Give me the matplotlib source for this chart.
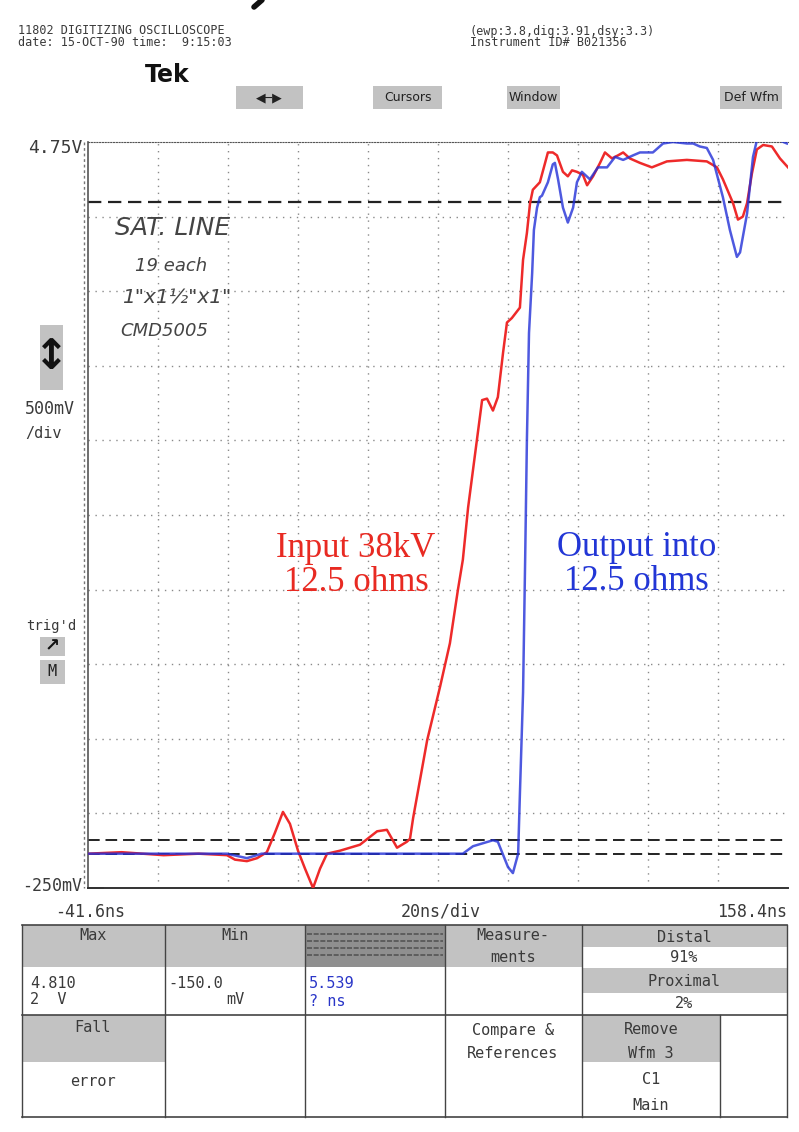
import numpy as np
import matplotlib
matplotlib.use("Agg")
import matplotlib.pyplot as plt
from matplotlib.patches import Rectangle
from matplotlib.lines import Line2D

# scope settings
t_left, t_right = -41.6, 158.4     # ns
v_bot, v_top = -0.25, 4.75         # V
sat_line = 4.35
prox_lines = [0.07, -0.02]

# input trace (red), time in ns, volts
red_t = [-41.6, -32.0, -20.0, -10.0, -1.9, 0.4, 3.8, 6.7, 9.5, 11.8, 14.1, 16.1,
         18.4, 20.4, 22.7, 24.7, 26.7, 30.4, 36.1, 41.0, 43.8, 46.7, 49.5, 50.4,
         51.3, 55.3, 59.0, 61.8, 64.1, 65.5, 67.0, 69.5, 71.0, 72.4, 74.1, 75.5,
         77.0, 78.1, 79.5, 81.8, 82.7, 83.8, 84.7, 85.5, 87.5, 89.0, 89.8, 91.2,
         92.4, 94.1, 95.5, 96.7, 98.1, 99.8, 101.0, 102.7, 104.7, 106.1, 108.1,
         109.8, 111.3, 113.2, 116.1, 119.5, 123.8, 129.5, 135.2, 138.1, 139.8,
         142.7, 144.1, 145.5, 146.7, 148.1, 149.5, 151.3, 153.8, 156.1, 158.4]
red_v = [-0.02, -0.01, -0.03, -0.02, -0.03, -0.06, -0.07, -0.05, -0.01, 0.12, 0.26, 0.18,
         0.0, -0.12, -0.25, -0.12, -0.02, 0.0, 0.04, 0.13, 0.14, 0.02, 0.06, 0.08,
         0.22, 0.74, 1.10, 1.39, 1.75, 1.95, 2.30, 2.75, 3.02, 3.03, 2.95, 3.04,
         3.34, 3.54, 3.57, 3.64, 3.96, 4.14, 4.34, 4.43, 4.48, 4.61, 4.68, 4.68,
         4.66, 4.55, 4.52, 4.56, 4.55, 4.53, 4.46, 4.52, 4.61, 4.68, 4.64,
         4.66, 4.68, 4.64, 4.61, 4.58, 4.62, 4.63, 4.62, 4.58, 4.50,
         4.34, 4.23, 4.25, 4.34, 4.54, 4.70, 4.73, 4.72, 4.64, 4.58]

# output trace (blue)
blue_t = [-41.6, -10.0, -1.9, 3.8, 8.0, 30.0, 60.0, 65.5, 68.4, 74.1, 75.5, 78.4,
          79.8, 81.3, 81.8, 82.7, 83.3, 83.8, 84.4, 85.3, 85.8, 86.7, 87.5, 88.1,
          89.8, 91.2, 91.8, 92.7, 94.1, 95.5, 97.0, 98.1, 99.5, 101.8, 104.1, 106.7,
          109.0, 111.3, 114.1, 116.1, 119.8, 122.7, 125.5, 129.5, 131.3, 133.2, 135.2,
          137.0, 139.8, 141.8, 143.8, 144.7, 146.7, 148.4, 149.5, 156.1, 158.1]
blue_v = [-0.02, -0.02, -0.02, -0.05, -0.02, -0.02, -0.02, -0.02, 0.03, 0.07, 0.06, -0.11,
          -0.15, -0.02, 0.38, 1.06, 1.95, 2.75, 3.47, 3.87, 4.16, 4.31, 4.38, 4.39,
          4.48, 4.60, 4.61, 4.50, 4.31, 4.21, 4.31, 4.48, 4.55, 4.50, 4.58, 4.58,
          4.65, 4.63, 4.66, 4.68, 4.68, 4.74, 4.75, 4.74, 4.74, 4.72, 4.71,
          4.63, 4.38, 4.16, 3.98, 4.01, 4.27, 4.65, 4.76, 4.76, 4.74]

W, H = 799, 1132
scope = 'DejaVu Sans Mono'
ink = '#3a3a3a'


def fx(px):
    return px / W


def fy(py):
    return 1 - py / H


fig = plt.figure(figsize=(W / 100, H / 100), dpi=100)
fig.patch.set_facecolor('white')

ax = fig.add_axes([fx(88), fy(888), fx(788) - fx(88), fy(142) - fy(888)])
ax.set_xlim(t_left, t_right)
ax.set_ylim(v_bot, v_top)

# graticule
for t in np.arange(t_left + 20, t_right - 1, 20):
    ax.axvline(t, color='#8a8a8a', lw=1.0, ls=(0, (1, 4)), zorder=1)
for v in np.arange(v_bot + 0.5, v_top - 0.1, 0.5):
    ax.axhline(v, color='#8a8a8a', lw=1.0, ls=(0, (1, 4)), zorder=1)

ax.axhline(sat_line, color='#222222', lw=1.6, ls=(0, (6, 3)), zorder=2)
for v in prox_lines:
    ax.axhline(v, color='#222222', lw=1.4, ls=(0, (6, 3)), zorder=2)

ax.plot(red_t, red_v, color='#ee2a2a', lw=1.8, zorder=3)
ax.plot(blue_t, blue_v, color='#2230d8', lw=1.8, alpha=0.8, zorder=4)

ax.set_xticks([])
ax.set_yticks([])
ax.spines['right'].set_visible(False)
ax.spines['top'].set_linestyle((0, (1, 1.5)))
ax.spines['top'].set_color('#555555')
ax.spines['left'].set_color('#555555')
ax.spines['left'].set_linewidth(1.2)
ax.spines['bottom'].set_color('#333333')
ax.spines['bottom'].set_linewidth(1.4)
fig.add_artist(Line2D([fx(84), fx(84)], [fy(142), fy(888)], color='#777777', lw=1,
                      ls=(0, (2, 2))))
fig.add_artist(Line2D([fx(88), fx(103)], [fy(888), fy(888)], color='#333333', lw=1.4))

# annotations on the trace
ax.text(35.0, 1.91, 'Input 38kV\n12.5 ohms', color='#e82a22', fontsize=25,
        family='Liberation Serif', ha='center', va='center', linespacing=1.05)
ax.text(115.2, 1.92, 'Output into\n12.5 ohms', color='#2236d6', fontsize=25,
        family='Liberation Serif', ha='center', va='center', linespacing=1.05)

hand = dict(color='#444444', fontstyle='italic', family='DejaVu Sans', ha='left', va='center')
fig.text(fx(115), fy(228), 'SAT. LINE', fontsize=18, **hand)
fig.text(fx(135), fy(266), '19 each', fontsize=13, **hand)
fig.text(fx(122), fy(298), '1"x1\u00bd"x1"', fontsize=14.5, **hand)
fig.text(fx(120), fy(331), 'CMD5005', fontsize=13, **hand)

# scope labels around the screen
lab = dict(family=scope, color=ink, va='center')
fig.text(fx(28), fy(148), '4.75V', fontsize=13, **lab)
fig.text(fx(25), fy(409), '500mV', fontsize=12, **lab)
fig.text(fx(25), fy(433), '/div', fontsize=11, **lab)
fig.text(fx(26), fy(626), "trig'd", fontsize=10, **lab)
fig.text(fx(22), fy(886), '-250mV', fontsize=12, **lab)
fig.text(fx(55), fy(912), '-41.6ns', fontsize=12, **lab)
fig.text(fx(441), fy(912), '20ns/div', fontsize=12, ha='center', family=scope, color=ink,
         va='center')
fig.text(fx(787), fy(912), '158.4ns', fontsize=12, ha='right', family=scope, color=ink,
         va='center')

gray = '#c2c2c2'
fig.add_artist(Rectangle((fx(40), fy(390)), fx(23), fy(325) - fy(390), facecolor=gray,
                         edgecolor='none'))
fig.text(fx(51.5), fy(357), '\u2195', fontsize=30, ha='center', va='center', color='#111111',
         fontweight='bold')
fig.add_artist(Rectangle((fx(40), fy(656)), fx(25), fy(637) - fy(656), facecolor=gray,
                         edgecolor='none'))
fig.text(fx(52), fy(646), '\u2197', fontsize=13, ha='center', va='center', color='#111111',
         fontweight='bold')
fig.add_artist(Rectangle((fx(40), fy(684)), fx(25), fy(660) - fy(684), facecolor=gray,
                         edgecolor='none'))
fig.text(fx(52), fy(671), 'M', fontsize=11, ha='center', va='center', color='#222222',
         family=scope)

# header
hdr = dict(family=scope, color=ink, fontsize=8.5, va='center')
fig.text(fx(18), fy(31), '11802 DIGITIZING OSCILLOSCOPE', **hdr)
fig.text(fx(18), fy(42), 'date: 15-OCT-90 time:  9:15:03', **hdr)
fig.text(fx(470), fy(32), '(ewp:3.8,dig:3.91,dsy:3.3)', **hdr)
fig.text(fx(470), fy(43), 'Instrument ID# B021356', **hdr)
fig.text(fx(145), fy(75), 'Tek', fontsize=17, fontweight='bold', color='#111111',
         va='center', family='DejaVu Sans')
# tail of a glyph cut by the top edge of the scan
fig.add_artist(Line2D([fx(262), fx(254)], [fy(0), fy(7)], color='#111111', lw=4,
                      solid_capstyle='round'))

buttons = [(236, 303, '\u25c0\u2500\u25b6'), (373, 442, 'Cursors'), (507, 560, 'Window'),
           (720, 782, 'Def Wfm')]
for x0, x1, label in buttons:
    fig.add_artist(Rectangle((fx(x0), fy(109)), fx(x1 - x0), fy(86) - fy(109),
                             facecolor=gray, edgecolor='none'))
    fig.text(fx((x0 + x1) / 2), fy(97.5), label, fontsize=9, ha='center', va='center',
             color='#222222',
             family='DejaVu Sans Condensed' if x0 != 236 else 'DejaVu Sans')

# measurement table
def cell(x0, y0, x1, y1, color):
    fig.add_artist(Rectangle((fx(x0), fy(y1)), fx(x1 - x0), fy(y0) - fy(y1),
                             facecolor=color, edgecolor='none'))


def txt(x, y, s, color=ink, ha='center'):
    fig.text(fx(x), fy(y), s, fontsize=11, family=scope, color=color, ha=ha, va='center')


cell(22, 925, 165, 967, gray)
cell(165, 925, 305, 967, gray)
cell(305, 925, 445, 967, '#8f8f8f')
cell(445, 925, 582, 967, gray)
cell(582, 925, 787, 947, gray)
cell(582, 968, 787, 993, gray)
cell(22, 1015, 165, 1062, gray)
cell(582, 1015, 720, 1062, gray)
for yy in (934, 941, 948, 955):
    fig.add_artist(Line2D([fx(307), fx(443)], [fy(yy), fy(yy)], color='#555555', lw=1.2,
                          ls=(0, (3, 1))))

txt(93, 935, 'Max')
txt(235, 935, 'Min')
txt(513, 935, 'Measure-')
txt(513, 958, 'ments')
txt(684, 937, 'Distal')
txt(684, 958, '91%')
txt(684, 982, 'Proximal')
txt(684, 1004, '2%')
txt(30, 983, '4.810', ha='left')
txt(30, 1000, '2  V', ha='left')
txt(168, 983, '-150.0', ha='left')
txt(235, 1000, 'mV')
txt(309, 983, '5.539', color='#2a36c8', ha='left')
txt(309, 1002, '? ns', color='#2a36c8', ha='left')
txt(93, 1027, 'Fall')
txt(93, 1082, 'error')
txt(513, 1030, 'Compare &')
txt(513, 1053, 'References')
txt(651, 1030, 'Remove')
txt(651, 1053, 'Wfm 3')
txt(651, 1080, 'C1')
txt(651, 1105, 'Main')

lc = '#444444'
for y in (925, 1015, 1117):
    fig.add_artist(Line2D([fx(22), fx(787)], [fy(y), fy(y)], color=lc, lw=1.2))
for x in (22, 165, 305, 445, 582, 787):
    fig.add_artist(Line2D([fx(x), fx(x)], [fy(925), fy(1117)], color=lc, lw=1.0))
fig.add_artist(Line2D([fx(720), fx(720)], [fy(1015), fy(1117)], color=lc, lw=1.0))

fig.savefig('out.png', dpi=100, facecolor='white')
